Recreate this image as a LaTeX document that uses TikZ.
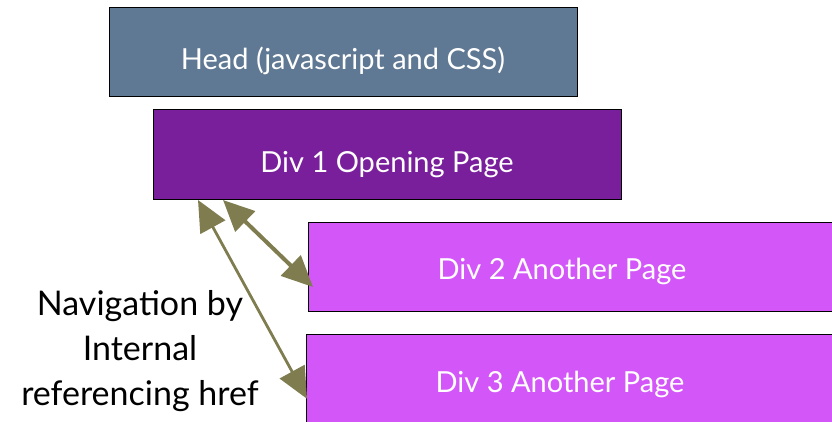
\documentclass[tikz,border=0pt]{standalone}
\usepackage{fontspec}
\setmainfont{Lato}
\usetikzlibrary{arrows.meta,calc}
\definecolor{headc}{HTML}{5F7893}
\definecolor{divone}{HTML}{7A1F9C}
\definecolor{divtwo}{HTML}{D357F8}
\definecolor{olive}{HTML}{7F7D50}
\begin{document}
\begin{tikzpicture}[x=1pt,y=1pt,
  box/.style={draw=black,line width=1.2pt,inner sep=0pt,anchor=south west},
  boxtext/.style={text=white,font=\fontsize{29}{32}\selectfont,anchor=base},
  navarrow/.style={draw=olive,fill=olive,line width=#1,{Triangle[length=31pt,width=28pt]}-{Triangle[length=31pt,width=28pt]}},
  navarrow/.default=3.5pt]
\useasboundingbox (0,0) rectangle (832,422);
\clip (0,0) rectangle (832,422);
\node[box,fill=headc,minimum width=468pt,minimum height=89pt] (head) at (109,325) {};
\node[boxtext] (headt) at (343,352) {Head (javascript and CSS)};
\node[box,fill=divone,minimum width=468pt,minimum height=90pt] (div1) at (153,222) {};
\node[boxtext] (div1t) at (387,249) {Div 1 Opening Page};
\node[box,fill=divtwo,minimum width=540pt,minimum height=89pt] (div2) at (308,110) {};
\node[boxtext] (div2t) at (562,142) {Div 2 Another Page};
\node[box,fill=divtwo,minimum width=540pt,minimum height=95pt] (div3) at (306,-8) {};
\node[boxtext] (div3t) at (560,29) {Div 3 Another Page};
\node[align=center,font=\fontsize{34}{45}\selectfont,anchor=base] (nav) at (140,16)
  {Navigation by\\Internal\\referencing href};
\draw[navarrow=4pt] ([xshift=70pt]div1.south west) -- ([yshift=25pt,xshift=5pt]div2.south west);
\draw[navarrow=2.8pt] ([xshift=45pt]div1.south west) -- ([yshift=-65pt,xshift=1pt]div3.north west);
\end{tikzpicture}
\end{document}
